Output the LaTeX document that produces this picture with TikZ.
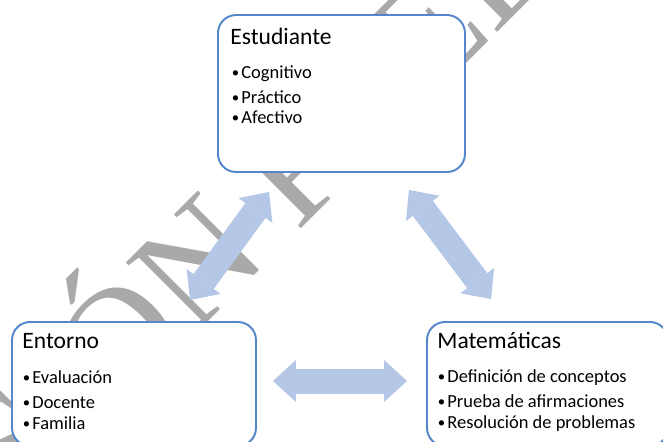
\documentclass[tikz,border=0pt]{standalone}
\usepackage{fontspec}
\setmainfont{Carlito}
\newfontfamily\wmfont{Liberation Serif}
\usetikzlibrary{arrows.meta,positioning}

\definecolor{boxblue}{RGB}{84,134,202}
\definecolor{arrblue}{RGB}{180,199,231}
\definecolor{wmgray}{RGB}{169,169,169}

\newcommand{\blt}{\makebox[0.22cm][l]{\hspace{0.03cm}\raisebox{0.12ex}{\scalebox{0.8}{•}}}}

\begin{document}
\begin{tikzpicture}[x=0.02cm, y=-0.02cm,
  box/.style={draw=boxblue, line width=1.1pt, fill=white,
              rounded corners=0.36cm, inner sep=0pt},
  ttl/.style={anchor=base west, inner sep=0pt,
              font=\fontsize{13.4pt}{16pt}\selectfont},
  item/.style={anchor=base west, inner sep=0pt,
               font=\fontsize{10.5pt}{12pt}\selectfont},
  dbl/.style={draw=arrblue, line width=0.5cm,
              >={Triangle[length=0.46cm, width=0.84cm, line width=0pt]}, <->},
  wmark/.style={text=wmgray, inner sep=0pt, anchor=base west, rotate=45,
                font=\wmfont\fontsize{86.5pt}{90pt}\selectfont}
]
\useasboundingbox (0,0) rectangle (663,441);

% ===== watermark =====
\node[wmark] (wm) at (-195,725) {VERSIÓN PRELIMINAR};

% ===== boxes =====
\node[box, minimum width=4.94cm, minimum height=3.14cm] (est) at (341.5,93.5) {};
\node[box, minimum width=4.88cm, minimum height=2.48cm] (ent) at (134,384) {};
\node[box, minimum width=4.82cm, minimum height=2.48cm] (mat) at (547.5,384) {};

% ===== Estudiante =====
\node[ttl]  (est-t) at ([shift={(13,30)}]est.north west) {Estudiante};
\node[item] (est-1) at ([shift={(13,64)}]est.north west) {\blt Cognitivo};
\node[item] (est-2) at ([shift={(13,89)}]est.north west) {\blt Práctico};
\node[item] (est-3) at ([shift={(13,109)}]est.north west) {\blt Afectivo};

% ===== Entorno =====
\node[ttl]  (ent-t) at ([shift={(11,27)}]ent.north west) {Entorno};
\node[item] (ent-1) at ([shift={(10,62)}]ent.north west) {\blt Evaluación};
\node[item] (ent-2) at ([shift={(10,87)}]ent.north west) {\blt Docente};
\node[item] (ent-3) at ([shift={(10,108)}]ent.north west) {\blt Familia};

% ===== Matematicas =====
\node[ttl]  (mat-t) at ([shift={(11,27)}]mat.north west) {Matemáticas};
\node[item] (mat-1) at ([shift={(10,61)}]mat.north west) {\blt Definición de conceptos};
\node[item] (mat-2) at ([shift={(10,86)}]mat.north west) {\blt Prueba de afirmaciones};
\node[item] (mat-3) at ([shift={(10,107)}]mat.north west) {\blt Resolución de problemas};

% ===== double arrows =====
\draw[dbl] ([shift={(52,19)}]est.south west) -- ([shift={(179,-21)}]ent.north west);
\draw[dbl] ([shift={(-57,17)}]est.south east) -- ([shift={(65,-22)}]mat.north west);
\draw[dbl] ([shift={(16,-3)}]ent.east) -- ([shift={(-19,-3)}]mat.west);

\end{tikzpicture}
\end{document}
